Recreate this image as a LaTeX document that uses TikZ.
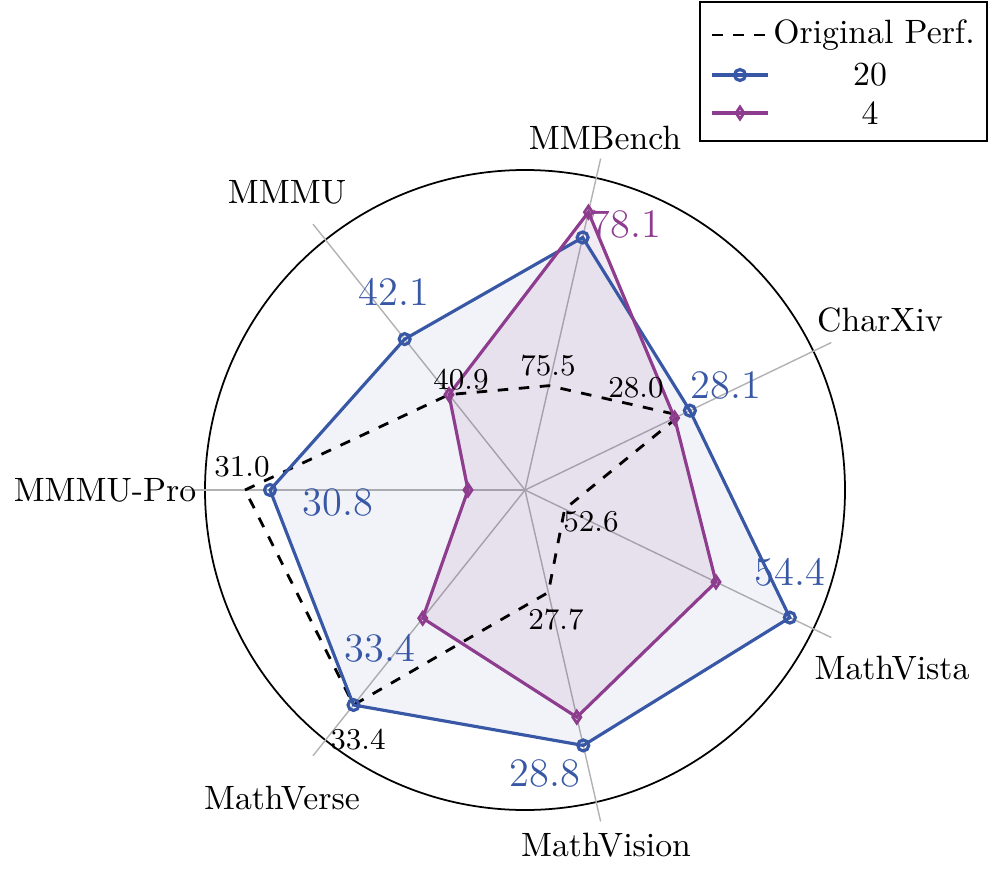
\documentclass[tikz,border=0pt]{standalone}
\usepackage{tikz}
\usetikzlibrary{arrows.meta,positioning,calc}
\definecolor{runblue}{RGB}{56,88,166}
\definecolor{runpurple}{RGB}{142,60,142}
\tikzset{%
  % Specifications for style of nodes:
       axislabel/.style = {font=\fontsize{9.6}{11}\selectfont},
        valblack/.style = {font=\fontsize{8.6}{10}\selectfont, inner sep=1pt},
         valblue/.style = {font=\fontsize{11.5}{13}\selectfont, text=runblue},
       valpurple/.style = {font=\fontsize{11.5}{13}\selectfont, text=runpurple},
        spoke/.style    = {black!30, line width=0.4pt},
        origline/.style = {black, dashed, line width=0.8pt},
         runline/.style = {line width=0.9pt},
}

\begin{document}
\begin{tikzpicture}[x=0.1mm, y=0.1mm]
\useasboundingbox (0,0) rectangle (995,873);
\coordinate (C) at (525,383);

% frame and spokes
\draw[line width=0.5pt] (C) circle (320);
\foreach \i in {0,...,6}
  \draw[spoke] (C) -- ([shift={(C)}]180-\i*51.43:340);

% series 20
\foreach \r [count=\i from 0] in {255,193,259,183,294,262,275}
  \coordinate (b\i) at ([shift={(C)}]180-\i*51.43:\r);
% series 4
\foreach \r [count=\i from 0] in {57,122,285,166,212,233,164}
  \coordinate (p\i) at ([shift={(C)}]180-\i*51.43:\r);
% original performance
\foreach \r [count=\i from 0] in {280,122,107,172,44,105,275}
  \coordinate (o\i) at ([shift={(C)}]180-\i*51.43:\r);

\fill[runblue, opacity=0.07] (b0) -- (b1) -- (b2) -- (b3) -- (b4) -- (b5) -- (b6) -- cycle;
\fill[runpurple, opacity=0.10] (p0) -- (p1) -- (p2) -- (p3) -- (p4) -- (p5) -- (p6) -- cycle;
\draw[origline] (o0) -- (o1) -- (o2) -- (o3) -- (o4) -- (o5) -- (o6) -- cycle;
\draw[runline, runblue] (b0) -- (b1) -- (b2) -- (b3) -- (b4) -- (b5) -- (b6) -- cycle;
\draw[runline, runpurple] (p0) -- (p1) -- (p2) -- (p3) -- (p4) -- (p5) -- (p6) -- cycle;
\foreach \i in {0,...,6} {
  \draw[runblue, line width=0.9pt] (b\i) circle (5.5);
  \draw[runpurple, line width=0.8pt] ($(p\i)+(0,6)$) -- ($(p\i)+(4,0)$) -- ($(p\i)+(0,-6)$) -- ($(p\i)+(-4,0)$) -- cycle;
}

% axis labels
\node (MMMUPro) [axislabel] at (105,383) {MMMU-Pro};
\node (MMMU)    [axislabel] at (287,681) {MMMU};
\node (MMBench) [axislabel] at (605,735) {MMBench};
\node (CharXiv) [axislabel] at (880,553) {CharXiv};
\node (MathVista)  [axislabel] at (892,205) {MathVista};
\node (MathVision) [axislabel] at (606,28) {MathVision};
\node (MathVerse)  [axislabel] at (282,75) {MathVerse};

% values
\node (vb1) [valblue] at (394,581) {42.1};
\node (vp2) [valpurple] at (626,649) {78.1};
\node (vb3) [valblue] at (726,488) {28.1};
\node (vb4) [valblue] at (790,301) {54.4};
\node (vb5) [valblue] at (545,100) {28.8};
\node (vb6) [valblue] at (380,225) {33.4};
\node (vb0) [valblue] at (338,371) {30.8};
\node (vo2) [valblack] at (548,507) {75.5};
\node (vo3) [valblack] at (636,485) {28.0};
\node (vo1) [valblack] at (461,493) {40.9};
\node (vo0) [valblack] at (242,406) {31.0};
\node (vo4) [valblack] at (591,351) {52.6};
\node (vo5) [valblack] at (556,253) {27.7};
\node (vo6) [valblack] at (358,133) {33.4};

% legend
\draw[line width=0.5pt] (700,732) rectangle (987,871);
\coordinate (l1a) at (712,838); \coordinate (l1b) at (768,838);
\coordinate (l2a) at (712,798); \coordinate (l2b) at (768,798);
\coordinate (l3a) at (712,760); \coordinate (l3b) at (768,760);
\draw[origline] (l1a) -- (l1b);
\draw[runline, runblue] (l2a) -- (l2b);
\draw[runblue, line width=0.9pt] ($(l2a)!0.5!(l2b)$) circle (5.5);
\draw[runline, runpurple] (l3a) -- (l3b);
\draw[runpurple, line width=0.8pt] ($(l3a)!0.5!(l3b)+(0,6)$) -- ++(4,-6) -- ++(-4,-6) -- ++(-4,6) -- cycle;
\node (LOrig) [axislabel] at (874,838) {Original Perf.};
\node (L20)   [axislabel] at (870,798) {20};
\node (L4)    [axislabel] at (870,760) {4};
\end{tikzpicture}
\end{document}
